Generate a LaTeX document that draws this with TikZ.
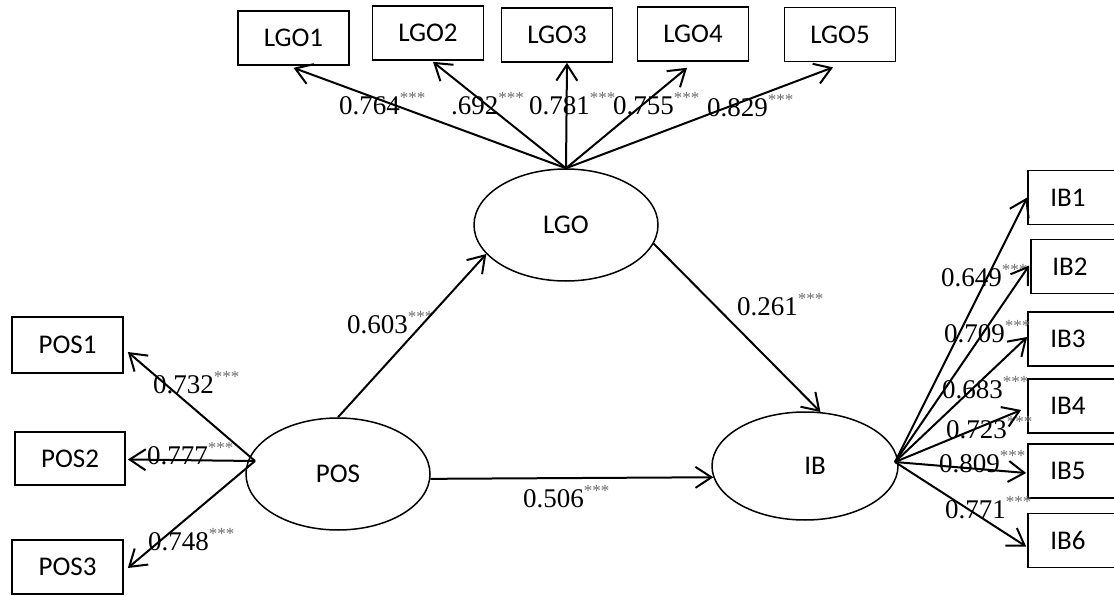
\documentclass[tikz,border=0pt]{standalone}
\usepackage{fontspec}
\setmainfont{Liberation Serif}
\newfontfamily\boxfont{Carlito}
\usetikzlibrary{shapes.geometric,arrows.meta,calc}
\definecolor{starcol}{HTML}{6E6E6E}
\newcommand\stars{\raisebox{11pt}{\fontsize{17}{17}\selectfont\color{starcol}***}}
\tikzset{
  ind/.style={draw,line width=1.7pt,rectangle,minimum width=111pt,minimum height=54pt,inner sep=0pt,font=\boxfont\fontsize{27}{27}\selectfont},
  latent/.style={draw,line width=1.5pt,ellipse,minimum width=184pt,minimum height=112pt,inner sep=0pt,font=\boxfont\fontsize{27}{27}\selectfont},
  boxtxt/.style={inner sep=0pt,font=\boxfont\fontsize{27}{27}\selectfont},
  lab/.style={anchor=base west,inner sep=0pt,font=\fontsize{27}{27}\selectfont},
  path/.style={line width=2pt,-{Straight Barb[length=16pt,width=21pt,line width=2pt]}}
}
\begin{document}
\begin{tikzpicture}[x=1pt,y=-1pt]
\useasboundingbox (0,0) rectangle (1114,596);
\clip (0,0) rectangle (1114,596);
% latent variables
\node[latent] (lgo) at (566,225) {LGO};
\node[latent] (pos) at (338,474) {POS};
\node[latent,minimum width=186pt,minimum height=108pt] (ib) at (805,466) {\hspace*{20pt}IB};
% LGO indicators
\node[ind] (lgo1) at (293.5,38) {LGO1};
\node[ind] (lgo2) at (428,33) {LGO2};
\node[ind] (lgo3) at (557,35) {LGO3};
\node[ind] (lgo4) at (693,34) {LGO4};
\node[ind] (lgo5) at (840,34.5) {LGO5};
% POS indicators
\node[ind,minimum height=56pt] (pos1) at (67.5,345) {POS1};
\node[ind,minimum width=110pt,minimum height=53pt] (pos2) at (70,458.5) {POS2};
\node[ind] (pos3) at (67.5,567) {POS3};
% IB indicators
\node[ind] (ib1) at (1083.5,197.5) {};
\node[ind] (ib2) at (1086.5,266.5) {};
\node[ind] (ib3) at (1083.5,339) {};
\node[ind] (ib4) at (1083.5,406) {};
\node[ind] (ib5) at (1083.5,471) {};
\node[ind] (ib6) at (1083.5,540.5) {};
\node[boxtxt] (t1) at (1068,197.5) {IB1};
\node[boxtxt] (t2) at (1070,266.5) {IB2};
\node[boxtxt] (t3) at (1068,339) {IB3};
\node[boxtxt] (t4) at (1068,406) {IB4};
\node[boxtxt] (t5) at (1068,471) {IB5};
\node[boxtxt] (t6) at (1068,540.5) {IB6};
% labels
\node[lab] (l1) at (339,115) {0.764\stars};
\node[lab] (l2) at (451,115) {.692\stars};
\node[lab] (l3) at (529,115) {0.781\stars};
\node[lab] (l4) at (613,115) {0.755\stars};
\node[lab] (l5) at (707,117) {0.829\stars};
\node[lab] (p1) at (153,393) {0.732\stars};
\node[lab] (p2) at (147,464) {0.777\stars};
\node[lab] (p3) at (148,550) {0.748\stars};
\node[lab] (i1) at (941,287) {0.649\stars};
\node[lab] (i2) at (944,342) {0.709\stars};
\node[lab] (i3) at (942,398) {0.683\stars};
\node[lab] (i4) at (946,438) {0.723\stars};
\node[lab] (i5) at (939,472) {0.809\stars};
\node[lab] (i6) at (945,518) {0.771\stars};
\node[lab] (s1) at (347,333) {0.603\stars};
\node[lab] (s2) at (737,315) {0.261\stars};
\node[lab] (s3) at (523,507) {0.506\stars};
% connectors
\coordinate (posL) at (255,461);
\coordinate (ibR) at (895,462);
\draw[path] (lgo.north) -- ($(lgo1.south)+(0,2)$);
\draw[path] (lgo.north) -- ($(lgo2.south)+(5,1)$);
\draw[path] (lgo.north) -- ($(lgo3.south)+(10,0)$);
\draw[path] (lgo.north) -- ($(lgo4.south)+(-6,6)$);
\draw[path] (lgo.north) -- ($(lgo5.south)+(-7,5)$);
\draw[path] (posL) -- ($(pos1.east)+(4,7)$);
\draw[path] (posL) -- ($(pos2.east)+(2,1)$);
\draw[path] (posL) -- ($(pos3.east)+(4,1)$);
\draw[path] (ibR) -- ($(ib1.west)+(0,0)$);
\draw[path] (ibR) -- ($(ib2.west)+(-1,-1)$);
\draw[path] (ibR) -- ($(ib3.west)+(0,-2)$);
\draw[path] (ibR) -- ($(ib4.west)+(-6,4)$);
\draw[path] (ibR) -- ($(ib5.west)+(-1,2)$);
\draw[path] (ibR) -- ($(ib6.west)+(-1,6)$);
\draw[path] (pos.north) -- (lgo.200);
\draw[path] (lgo.-12) -- (ib.74);
\draw[path] (pos.-3) -- (ib.187);
\end{tikzpicture}
\end{document}
